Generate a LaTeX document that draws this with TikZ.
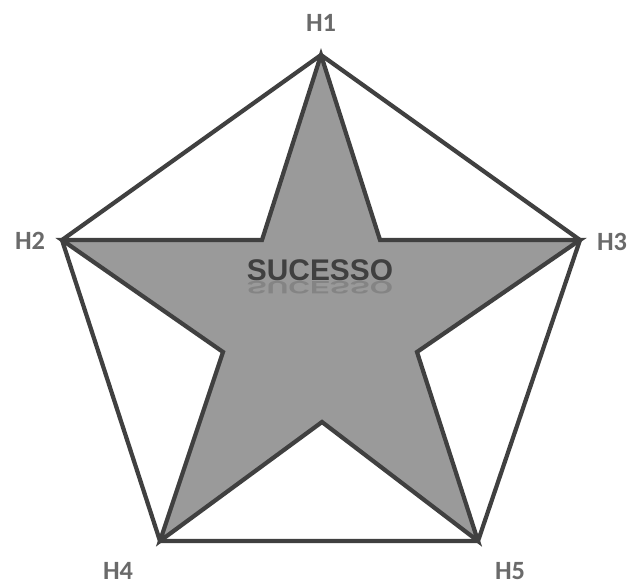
\documentclass[tikz,border=0pt]{standalone}
\usepackage{fontspec}
\setmainfont{Carlito}
\newfontfamily\heavyfont{Liberation Sans}
\usetikzlibrary{positioning, calc}
\definecolor{rim}{HTML}{404040}
\definecolor{starfill}{HTML}{9A9A9A}
\definecolor{labelgray}{HTML}{6A6A6A}
\tikzset{
    vlabel/.style={font=\fontsize{15}{17}\selectfont\bfseries, text=labelgray, inner sep=0pt},
    rimline/.style={draw=rim, line width=2.4pt, line join=miter},
    centertext/.style={font=\heavyfont\fontsize{17}{19}\selectfont\bfseries, text=rim, inner sep=0pt}
}

\begin{document}
\begin{tikzpicture}[x=0.02cm, y=-0.02cm]
    \useasboundingbox (0,0) rectangle (638,584);
    % ---- pontas do pentagono ----
    \coordinate (h1) at (321,55);
    \coordinate (h2) at (62,240);
    \coordinate (h3) at (580,240);
    \coordinate (h4) at (160,541);
    \coordinate (h5) at (478,541);
    % ---- cantos internos da estrela ----
    \coordinate (i1) at (380,240);
    \coordinate (i2) at (417,352);
    \coordinate (i3) at (322,422);
    \coordinate (i4) at (223,352);
    \coordinate (i5) at (262,240);
    % ---- estrela ----
    \fill[starfill] (h1) -- (i1) -- (h3) -- (i2) -- (h5) -- (i3) -- (h4) -- (i4) -- (h2) -- (i5) -- cycle;
    \draw[rimline] (h1) -- (i1) -- (h3) -- (i2) -- (h5) -- (i3) -- (h4) -- (i4) -- (h2) -- (i5) -- cycle;
    % ---- pentagono ----
    \draw[rimline] (h1) -- (h3) -- (h5) -- (h4) -- (h2) -- cycle;
    % ---- rotulos ----
    \node[vlabel] (l1) at (321,23) {H1};
    \node[vlabel] (l2) at (30,241) {H2};
    \node[vlabel] (l3) at (612,242) {H3};
    \node[vlabel] (l4) at (118,571) {H4};
    \node[vlabel] (l5) at (510,571) {H5};
    % ---- texto central ----
    \node[centertext] (txt) at (320,270) {SUCESSO};
    \node[centertext, text=rim!25!starfill, yscale=-0.6] (refl) at (320,288) {SUCESSO};
\end{tikzpicture}
\end{document}
